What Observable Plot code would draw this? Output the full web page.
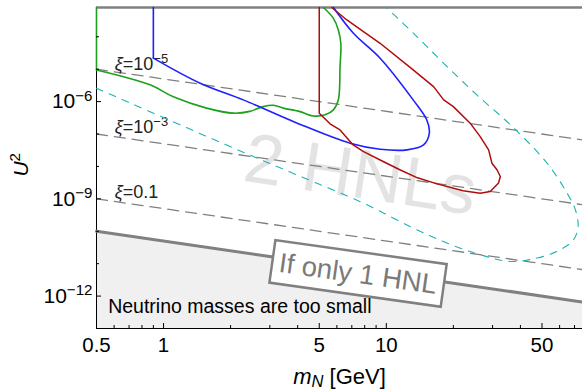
<!DOCTYPE html>
<html>
<head>
<meta charset="utf-8">
<script src="https://cdn.jsdelivr.net/npm/d3@7"></script>
<script src="https://cdn.jsdelivr.net/npm/@observablehq/plot@0.6"></script>
<style>
  html, body { margin: 0; padding: 0; background: #fff; }
</style>
</head>
<body>
<div id="chart"></div>
<script>
// Heavy neutral lepton parameter space: mass m_N [GeV] vs mixing U².

// Blue contour
const blueMass = [0.9, 0.9, 1.46, 2.28, 3.96, 6.88, 9.38, 12.4, 14.7, 15.6, 15.2, 13.2, 9.38, 7.12, 5.79];
const blueU2   = [8e-4, 2.2e-5, 3.7e-6, 1.13e-6, 2.2e-7, 5.2e-8, 3.4e-8, 3.25e-8, 4.6e-8, 1.06e-7, 2.7e-7, 1.13e-6, 2.18e-5, 1.28e-4, 8e-4];

// Green contour
const greenMass = [0.5, 0.5, 0.87, 1.1, 1.56, 2.06, 2.44, 2.8, 3.11, 3.45, 4.1, 4.7, 5.31, 5.79, 6.09, 6.2, 6.25, 6.09, 5.79, 5.22];
const greenU2   = [8e-4, 9.5e-6, 3.3e-6, 1.43e-6, 6.3e-7, 4.4e-7, 5.0e-7, 7.0e-7, 7.7e-7, 6.3e-7, 4.9e-7, 3.6e-7, 3.9e-7, 5.55e-7, 1.13e-6, 1.2e-5, 6.3e-5, 1.62e-4, 3.7e-4, 8e-4];

// Red contour
const redMass = [5.0, 5.0, 5.59, 6.2, 6.53, 7.1, 7.87, 9.68, 11.5, 13.8, 16.9, 22.1, 26.4, 29.3, 31.9, 32.5, 31.4, 29.8, 28.8, 26.4, 23.8, 20.0, 18.1, 16.3, 13.2, 9.38, 6.65, 5.69];
const redU2   = [8e-4, 4.4e-7, 2.06e-7, 1.34e-7, 8.8e-8, 4.6e-8, 2.9e-8, 1.42e-8, 7.9e-9, 4.45e-9, 2.9e-9, 1.77e-9, 1.5e-9, 1.68e-9, 3.06e-9, 4.9e-9, 7.9e-9, 1.26e-8, 3.25e-8, 8.3e-8, 2.16e-7, 7.0e-7, 1.13e-6, 2.9e-6, 9.5e-6, 6.3e-5, 3.3e-4, 8e-4];

// Cyan dashed contour
const cyanMass = [0.5, 1.99, 3.96, 7.89, 13.2, 18.7, 26.4, 36.0, 47.5, 60.4, 69.3, 72.6, 70.6, 64.8, 52.7, 37.3, 25.5, 18.1, 13.5, 10.0];
const cyanU2   = [2.59e-6, 4.1e-8, 5.5e-9, 7.4e-10, 1.26e-10, 4.33e-11, 1.89e-11, 1.17e-11, 1.49e-11, 2.69e-11, 5.47e-11, 1.41e-10, 4.6e-10, 1.5e-9, 1.26e-8, 1.55e-7, 1.61e-6, 1.52e-5, 1.13e-4, 8e-4];

// Constant-ξ lines (end points)
const xiLabels = ["*ξ*=10^{−5}", "*ξ*=10^{−3}", "*ξ*=0.1"];
const xiMass = [0.5, 76];
const xiU2 = [[1e-5, 6.58e-8], [1e-7, 6.58e-10], [1e-9, 6.58e-12]];

// Lower bound from light neutrino masses (end points)
const boundMass = [0.5, 76];
const boundU2 = [1e-10, 6.58e-13];

// Axis ticks
const xTicksMajor = [0.5, 1, 5, 10, 50];
const xTicksMinor = [0.6, 0.7, 0.8, 0.9, 2, 3, 4, 6, 7, 8, 9, 20, 30, 40, 60, 70];
const yTicksMajor = [1e-12, 1e-9, 1e-6];
const yTicksMinor = [1e-13, 1e-11, 1e-10, 1e-8, 1e-7, 1e-5, 1e-4];

const toRows = (ms, us) => ms.map((m, i) => ({m, u2: us[i]}));
const blue = toRows(blueMass, blueU2);
const green = toRows(greenMass, greenU2);
const red = toRows(redMass, redU2);
const cyan = toRows(cyanMass, cyanU2);
const bound = toRows(boundMass, boundU2);
const xiRows = xiU2.flatMap((us, k) => toRows(xiMass, us).map(d => ({...d, k})));
const xiText = xiLabels.map((label, k) => ({label, k}));

const powLabel = d => `10^{−${Math.round(-Math.log10(d))}}`;
const font = "'Liberation Sans', Arial, Helvetica, sans-serif";
const NOTE = "If only 1 HNL";

const plot = Plot.plot({
  width: 582,
  height: 389,
  marginLeft: 96,
  marginRight: 0,
  marginTop: 7,
  marginBottom: 61,
  x: {type: "log", domain: [0.5, 76]},
  y: {type: "log", domain: [1e-13, 8e-4]},
  style: {fontFamily: font, background: "white", overflow: "visible"},
  marks: [
    // excluded region below the single-HNL bound
    Plot.areaY(bound, {x: "m", y1: 1e-13, y2: "u2", fill: "#f0f0f0"}),
    // watermark
    Plot.text(["2 HNLs"], {x: 7.39, y: 1.08e-9, text: d => d, fontSize: 70, fill: "#e3e3e3",
      rotate: 8.5, textAnchor: "middle", lineAnchor: "bottom"}),
    // ξ lines
    Plot.line(xiRows, {x: "m", y: "u2", z: "k", stroke: "#808080", strokeWidth: 1.3, strokeDasharray: "11,7"}),
    Plot.text(xiText, {x: 0.604, y: d => [9.5e-6, 1.08e-7, 1.08e-9][d.k], text: "label", fontSize: 18,
      fill: "#222", textAnchor: "start", lineAnchor: "bottom"}),
    // frame
    Plot.ruleX([0.5], {stroke: "#000", strokeWidth: 1}),
    Plot.ruleY([1e-13], {stroke: "#000", strokeWidth: 1}),
    Plot.ruleY([8e-4], {stroke: "#808080", strokeWidth: 2.5}),
    // contours
    Plot.line(cyan, {x: "m", y: "u2", stroke: "#1fb3b3", strokeWidth: 1.1, strokeDasharray: "7,7", curve: "catmull-rom"}),
    Plot.line(green.slice(0, 2), {x: "m", y: "u2", stroke: "#1ea01e", strokeWidth: 1.6}),
    Plot.line(green.slice(1), {x: "m", y: "u2", stroke: "#1ea01e", strokeWidth: 1.6, curve: "catmull-rom"}),
    Plot.line(blue.slice(0, 2), {x: "m", y: "u2", stroke: "#1f1fff", strokeWidth: 1.6}),
    Plot.line(blue.slice(1), {x: "m", y: "u2", stroke: "#1f1fff", strokeWidth: 1.6, curve: "catmull-rom"}),
    Plot.line(red, {x: "m", y: "u2", stroke: "#b00c0c", strokeWidth: 1.5}),
    // single-HNL bound
    Plot.line(bound, {x: "m", y: "u2", stroke: "#808080", strokeWidth: 3}),
    Plot.text([NOTE], {x: 7.46, y: 4.76e-12, text: d => d, fontSize: 27.5, fill: "#7a7a7a",
      rotate: 8, textAnchor: "middle", lineAnchor: "middle"}),
    Plot.text(["Neutrino masses are too small"], {x: 0.564, y: 3.01e-13, text: d => d, fontSize: 19.5,
      fill: "#000", textAnchor: "start", lineAnchor: "bottom"}),
    // axes: inward ticks
    Plot.axisX(xTicksMajor, {anchor: "bottom", tickSize: 5, dy: -5, tickFormat: () => "", label: null, stroke: "#000"}),
    Plot.axisX(xTicksMinor, {anchor: "bottom", tickSize: 3, dy: -3, tickFormat: () => "", label: null, stroke: "#000"}),
    Plot.axisY(yTicksMajor, {anchor: "left", tickSize: 5, dx: 5, tickFormat: () => "", label: null, stroke: "#000"}),
    Plot.axisY(yTicksMinor, {anchor: "left", tickSize: 3, dx: 3, tickFormat: () => "", label: null, stroke: "#000"}),
    // tick labels
    Plot.text(xTicksMajor, {x: d => d, frameAnchor: "bottom", dy: 9, text: d => `${d}`, fontSize: 20.5,
      fill: "#000", lineAnchor: "top", textAnchor: "middle"}),
    Plot.text(yTicksMajor, {y: d => d, frameAnchor: "left", dx: -4, text: powLabel, fontSize: 21,
      fill: "#000", lineAnchor: "middle", textAnchor: "end"}),
    // axis titles
    Plot.text(["*m*_{*N*} [GeV]"], {frameAnchor: "bottom", dy: 55, text: d => d, fontSize: 22,
      fill: "#000", lineAnchor: "bottom"}),
    Plot.text(["*U*^{2}"], {frameAnchor: "left", y: 1.12e-8, dx: -69, text: d => d, fontSize: 21,
      fill: "#000", rotate: -90, textAnchor: "middle", lineAnchor: "bottom"})
  ]
});

document.getElementById("chart").appendChild(plot);

// Turn the light markup (*italic*, ^{sup}, _{sub}) into tspans.
function richText(el) {
  const s = el.textContent;
  if (!/(\^\{|_\{|\*)/.test(s)) return;
  const fs = parseFloat(getComputedStyle(el).fontSize) || 16;
  el.textContent = "";
  let shift = 0;
  const parts = s.split(/(\^\{[^}]*\}|_\{[^}]*\})/).filter(p => p !== "");
  for (const part of parts) {
    let target = 0, size = null, body = part;
    if (part.startsWith("^{")) { target = -0.36 * fs; size = 0.72 * fs; body = part.slice(2, -1); }
    else if (part.startsWith("_{")) { target = 0.18 * fs; size = 0.75 * fs; body = part.slice(2, -1); }
    const segs = body.split(/(\*[^*]*\*)/).filter(p => p !== "");
    for (const seg of segs) {
      const italic = seg.startsWith("*") && seg.endsWith("*") && seg.length > 1;
      const t = document.createElementNS("http://www.w3.org/2000/svg", "tspan");
      t.textContent = italic ? seg.slice(1, -1) : seg;
      if (italic) t.setAttribute("font-style", "italic");
      if (size) t.setAttribute("font-size", size);
      if (target !== shift) { t.setAttribute("dy", target - shift); shift = target; }
      el.appendChild(t);
    }
  }
}
d3.select(plot).selectAll("text").each(function() { richText(this); });

// Framed note: a white box drawn behind the rotated label.
d3.select(plot).selectAll("text").filter(function() { return this.textContent === NOTE; }).each(function() {
  const bb = this.getBBox();
  d3.select(this.parentNode).insert("rect", () => this)
    .attr("transform", this.getAttribute("transform"))
    .attr("x", bb.x - 7).attr("y", bb.y - 6)
    .attr("width", bb.width + 14).attr("height", bb.height + 12)
    .attr("fill", "#fff").attr("stroke", "#808080").attr("stroke-width", 2.5);
});
</script>
</body>
</html>
